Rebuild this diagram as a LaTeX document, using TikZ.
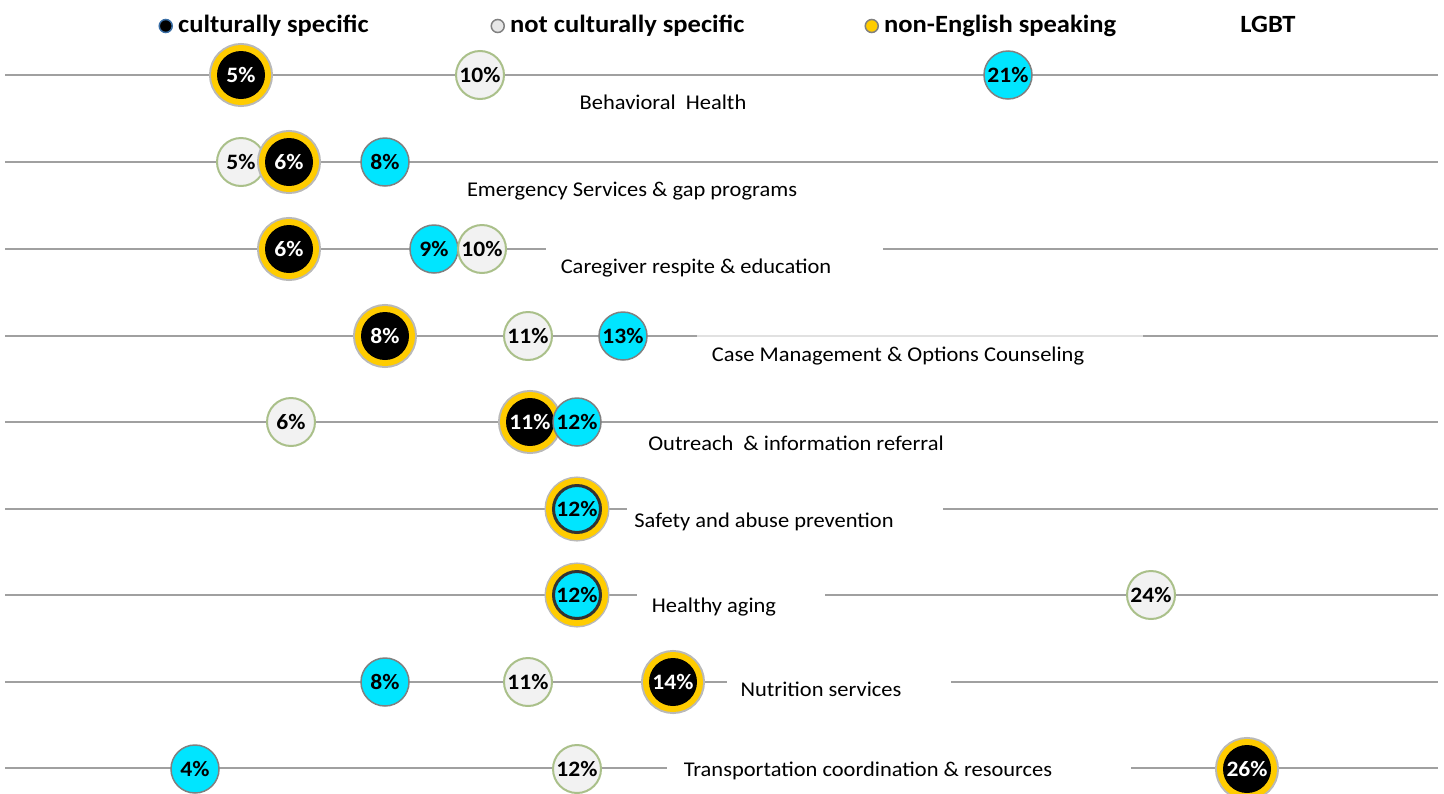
\documentclass[tikz,border=0pt]{standalone}
\usepackage{fontspec}
\setmainfont{Carlito}[FakeStretch=1.07]
\usepackage{tikz}
\usetikzlibrary{positioning}
\usepackage{xcolor}
\definecolor{linegray}{RGB}{160,160,160}
\definecolor{faintgray}{RGB}{225,225,225}
\definecolor{halogray}{RGB}{185,185,185}
\definecolor{ringyellow}{RGB}{255,204,0}
\definecolor{lightfill}{RGB}{242,242,242}
\definecolor{olivegray}{RGB}{170,192,138}
\definecolor{lgbtcyan}{RGB}{0,229,255}
\definecolor{cyanborder}{RGB}{128,128,128}
\definecolor{darkring}{RGB}{50,50,50}
\definecolor{dotblue}{RGB}{58,110,165}
\newcommand{\circfont}{\fontsize{22}{25}\selectfont\bfseries}
\newcommand{\labelfont}{\fontsize{21}{24}\selectfont}
\newcommand{\legendfont}{\fontsize{24.8}{28}\selectfont\bfseries}
\tikzstyle{rowline} = [draw=linegray, line width=2pt]
\tikzstyle{faintline} = [draw=faintgray, line width=1.5pt]
\tikzstyle{cultural} = [circle, minimum size=48pt, inner sep=0pt, fill=black, text=white, font=\circfont, preaction={draw=halogray, line width=16pt}, preaction={draw=ringyellow, line width=12pt}]
\tikzstyle{notcultural} = [circle, minimum size=48pt, inner sep=0pt, fill=lightfill, draw=olivegray, line width=2pt, font=\circfont]
\tikzstyle{lgbt} = [circle, minimum size=48pt, inner sep=0pt, fill=lgbtcyan, draw=cyanborder, line width=1.5pt, font=\circfont]
\tikzstyle{both} = [circle, minimum size=47pt, inner sep=0pt, fill=lgbtcyan, draw=darkring, line width=3pt, font=\circfont, preaction={draw=halogray, line width=18pt}, preaction={draw=ringyellow, line width=15pt}]
\tikzstyle{rowlabel} = [inner sep=0pt, text height=15pt, text depth=4pt, font=\labelfont]
\tikzstyle{legendtext} = [inner sep=0pt, text height=17pt, text depth=5pt, font=\legendfont]
\tikzstyle{legenddot} = [circle, minimum size=13pt, inner sep=0pt, line width=1.5pt]

\begin{document}
\begin{tikzpicture}[x=1pt, y=-1pt]
\useasboundingbox (0,0) rectangle (1444,793);

% legend
\node (cstext) [legendtext, anchor=west] at (178,26) {culturally specific};
\node (csdot) [legenddot, fill=black, draw=dotblue, left=5pt of cstext] {};
\node (nctext) [legendtext, anchor=west] at (510,26) {not culturally specific};
\node (ncdot) [legenddot, fill=lightfill!90!gray, draw=gray, left=5pt of nctext] {};
\node (netext) [legendtext, anchor=west] at (884,26) {non-English speaking};
\node (nedot) [legenddot, fill=ringyellow, draw=gray, left=5pt of netext] {};
\node (lgbttext) [legendtext] at (1268,26) {LGBT};

% row lines
\draw [rowline] (5,75) coordinate (bhL) -- (1438,75) coordinate (bhR);
\draw [rowline] (5,162) coordinate (esL) -- (1438,162) coordinate (esR);
\draw [rowline] (5,249) coordinate (crL) -- (546,249) coordinate (crA);
\draw [rowline] (883,249) coordinate (crB) -- (1438,249) coordinate (crR);
\draw [rowline] (5,336) coordinate (cmL) -- (697,336) coordinate (cmA);
\draw [faintline] (cmA) -- (1143,336) coordinate (cmB);
\draw [rowline] (cmB) -- (1438,336) coordinate (cmR);
\draw [rowline] (5,422) coordinate (orL) -- (1438,422) coordinate (orR);
\draw [rowline] (5,509) coordinate (saL) -- (627,509) coordinate (saA);
\draw [rowline] (943,509) coordinate (saB) -- (1438,509) coordinate (saR);
\draw [rowline] (5,595) coordinate (haL) -- (637,595) coordinate (haA);
\draw [rowline] (825,595) coordinate (haB) -- (1438,595) coordinate (haR);
\draw [rowline] (5,682) coordinate (nsL) -- (727,682) coordinate (nsA);
\draw [rowline] (951,682) coordinate (nsB) -- (1438,682) coordinate (nsR);
\draw [rowline] (5,768) coordinate (trL) -- (667,768) coordinate (trA);
\draw [rowline] (1131,768) coordinate (trB) -- (1438,768) coordinate (trR);

% Behavioral Health
\node (bhcs) [cultural] at (241,75) {5\%};
\node (bhnc) [notcultural] at (480,75) {10\%};
\node (bhlg) [lgbt] at (1008,75) {21\%};
\node (bhlabel) [rowlabel] at (663,104) {Behavioral\ \ Health};

% Emergency Services
\node (esnc) [notcultural] at (241,162) {5\%};
\node (escs) [cultural] at (289,162) {6\%};
\node (eslg) [lgbt] at (385,162) {8\%};
\node (eslabel) [rowlabel] at (632,191) {Emergency Services \& gap programs};

% Caregiver respite
\node (crcs) [cultural] at (289,249) {6\%};
\node (crlg) [lgbt] at (434,249) {9\%};
\node (crnc) [notcultural] at (482,249) {10\%};
\node (crlabel) [rowlabel] at (696,268) {Caregiver respite \& education};

% Case Management
\node (cmcs) [cultural] at (385,336) {8\%};
\node (cmnc) [notcultural] at (528,336) {11\%};
\node (cmlg) [lgbt] at (623,336) {13\%};
\node (cmlabel) [rowlabel] at (898,356) {Case Management \& Options Counseling};

% Outreach
\node (ornc) [notcultural] at (291,422) {6\%};
\node (orcs) [cultural] at (530,422) {11\%};
\node (orlg) [lgbt] at (577,422) {12\%};
\node (orlabel) [rowlabel] at (796,445) {Outreach\ \ \& information referral};

% Safety
\node (saall) [both] at (577,509) {12\%};
\node (salabel) [rowlabel] at (764,522) {Safety and abuse prevention};

% Healthy aging
\node (haall) [both] at (577,595) {12\%};
\node (hanc) [notcultural] at (1151,595) {24\%};
\node (halabel) [rowlabel] at (714,607) {Healthy aging};

% Nutrition
\node (nslg) [lgbt] at (385,682) {8\%};
\node (nsnc) [notcultural] at (528,682) {11\%};
\node (nscs) [cultural] at (673,682) {14\%};
\node (nslabel) [rowlabel] at (821,691) {Nutrition services};

% Transportation
\node (trlg) [lgbt] at (195,769) {4\%};
\node (trnc) [notcultural] at (577,769) {12\%};
\node (trcs) [cultural] at (1247,769) {26\%};
\node (trlabel) [rowlabel] at (868,771) {Transportation coordination \& resources};

\end{tikzpicture}
\end{document}
